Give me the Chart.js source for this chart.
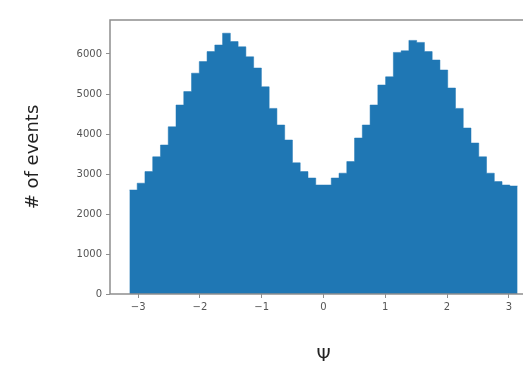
<!DOCTYPE html>
<html>
<head>
<meta charset="utf-8">
<script src="https://cdn.jsdelivr.net/npm/chart.js@4.4.1/dist/chart.umd.min.js"></script>
<style>
  html, body { margin: 0; padding: 0; background: #fff; overflow: hidden; }
  #wrap { width: 560px; height: 367px; }
</style>
</head>
<body>
<div id="wrap"><canvas id="psiChart" width="560" height="367"></canvas></div>
<script>
// histogram of Psi, 50 bins over [-pi, pi]
const binCount = 50;
const xRange = [-Math.PI, Math.PI];
const counts = [
  2600, 2770, 3060, 3430, 3725, 4180, 4725, 5060, 5520, 5810,
  6060, 6225, 6520, 6310, 6180, 5930, 5650, 5180, 4640, 4225,
  3850, 3280, 3060, 2900, 2725, 2725, 2900, 3020, 3310, 3900,
  4225, 4725, 5225, 5430, 6040, 6080, 6340, 6290, 6060, 5850,
  5600, 5150, 4640, 4150, 3775, 3430, 3020, 2810, 2725, 2700
];
const xTicks = [-3, -2, -1, 0, 1, 2, 3];
const yTicks = [0, 1000, 2000, 3000, 4000, 5000, 6000];

// bin edges; each bin's count holds from its left edge to the next edge
const binWidth = (xRange[1] - xRange[0]) / binCount;
const binEdges = Array.from({ length: binCount + 1 }, (_, i) => xRange[0] + i * binWidth);
const stepPoints = binEdges.map((x, i) => ({ x: x, y: counts[Math.min(i, binCount - 1)] }));

const spineColor = '#8f8f8f';
const tickFont = { family: 'DejaVu Sans', size: 10 };

// matplotlib-like spines: left, top, bottom (right one falls outside the window)
const framePlugin = {
    id: 'frame',
    afterDatasetsDraw(chart) {
        const { ctx, chartArea: a } = chart;
        ctx.save();
        ctx.strokeStyle = spineColor;
        ctx.lineWidth = 1.5;
        ctx.beginPath();
        ctx.moveTo(chart.width, a.top);
        ctx.lineTo(a.left, a.top);
        ctx.lineTo(a.left, a.bottom);
        ctx.lineTo(chart.width, a.bottom);
        ctx.stroke();
        ctx.restore();
    }
};

new Chart(document.getElementById('psiChart'), {
    type: 'line',
    data: {
        datasets: [{
            data: stepPoints,
            stepped: 'before',
            fill: 'origin',
            backgroundColor: '#1f77b4',
            borderColor: '#1f77b4',
            borderWidth: 0.5,
            pointRadius: 0
        }]
    },
    options: {
        responsive: false,
        animation: false,
        layout: { padding: { left: 23, top: 20, right: 23, bottom: 0 } },
        plugins: {
            legend: { display: false },
            tooltip: { enabled: false }
        },
        scales: {
            x: {
                type: 'linear',
                offset: false,
                min: -3.456,
                max: 3.456,
                afterBuildTicks: s => { s.ticks = xTicks.map(v => ({ value: v })); },
                afterFit: s => { s.height = 73; },
                grid: { offset: false, drawOnChartArea: false, drawTicks: true, tickLength: 4, tickColor: spineColor },
                border: { display: false },
                ticks: {
                    font: tickFont,
                    color: '#555',
                    padding: 3,
                    maxRotation: 0,
                    callback: v => (v < 0 ? '\u2212' + Math.abs(v) : String(v))
                },
                title: {
                    display: true,
                    text: 'Ψ',
                    font: { family: 'DejaVu Sans', size: 18 },
                    color: '#222',
                    padding: { top: 0, bottom: 0 }
                }
            },
            y: {
                min: 0,
                max: 6850,
                afterBuildTicks: s => { s.ticks = yTicks.map(v => ({ value: v })); },
                afterFit: s => { s.width = 87; },
                grid: { drawOnChartArea: false, drawTicks: true, tickLength: 4, tickColor: spineColor },
                border: { display: false },
                ticks: { font: tickFont, color: '#555', padding: 4, callback: v => String(v) },
                title: {
                    display: true,
                    text: '# of events',
                    font: { family: 'DejaVu Sans', size: 18 },
                    color: '#222',
                    padding: { top: 0, bottom: 0 }
                }
            }
        }
    },
    plugins: [framePlugin]
});
</script>
</body>
</html>
